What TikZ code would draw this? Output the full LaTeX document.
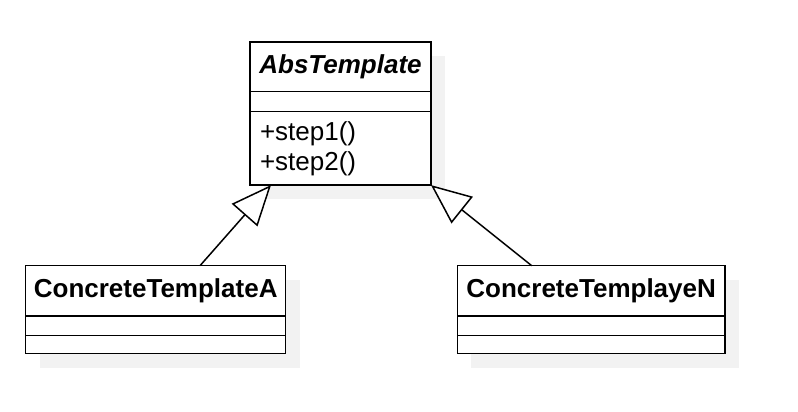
\documentclass[tikz,border=0pt]{standalone}
\usepackage{fontspec}
\setmainfont{Liberation Sans}
\usetikzlibrary{arrows.meta,positioning,shadows}
\definecolor{ink}{HTML}{000000}
\definecolor{shade}{HTML}{F2F2F2}

\begin{document}
\begin{tikzpicture}[x=1pt,y=1pt,font=\fontsize{26}{30}\selectfont,
  part/.style={draw=ink,line width=1.5pt,fill=white,outer sep=0pt,inner sep=0pt,
               drop shadow={shadow xshift=14pt,shadow yshift=-14pt,fill=shade,opacity=1}},
  head/.style={part,font=\fontsize{26}{30}\selectfont\bfseries},
  inherit/.style={draw=ink,line width=1.5pt,-{Triangle[length=40pt,width=34pt,fill=white]}}]
  \useasboundingbox (0,0) rectangle (798,-412);
  \node[head,minimum width=181pt,minimum height=49.5pt,anchor=north west] (abs) at (250,-42) {\itshape AbsTemplate};
  \node[part,minimum width=181pt,minimum height=20pt,below=0pt of abs] (abs attr) {};
  \node[part,minimum width=181pt,minimum height=73.6pt,text width=161pt,align=left,
        below=0pt of abs attr] (abs ops) {+step1()\\+step2()};
  \node[head,minimum width=260pt,minimum height=50.3pt,anchor=north west] (a) at (25.7,-265.7) {ConcreteTemplateA};
  \node[part,minimum width=260pt,minimum height=19.3pt,below=0pt of a] (a attr) {};
  \node[part,minimum width=260pt,minimum height=18.4pt,below=0pt of a attr] (a ops) {};
  \node[head,minimum width=267.7pt,minimum height=50.3pt,anchor=north west] (n) at (457.3,-265.7) {ConcreteTemplayeN};
  \node[part,minimum width=267.7pt,minimum height=19.3pt,below=0pt of n] (n attr) {};
  \node[part,minimum width=267.7pt,minimum height=18.4pt,below=0pt of n attr] (n ops) {};
  \draw[inherit] ([xshift=174.3pt]a.north west) -- ([xshift=21pt]abs ops.south west);
  \draw[inherit] ([xshift=74.4pt]n.north west) -- (abs ops.south east);
\end{tikzpicture}
\end{document}
